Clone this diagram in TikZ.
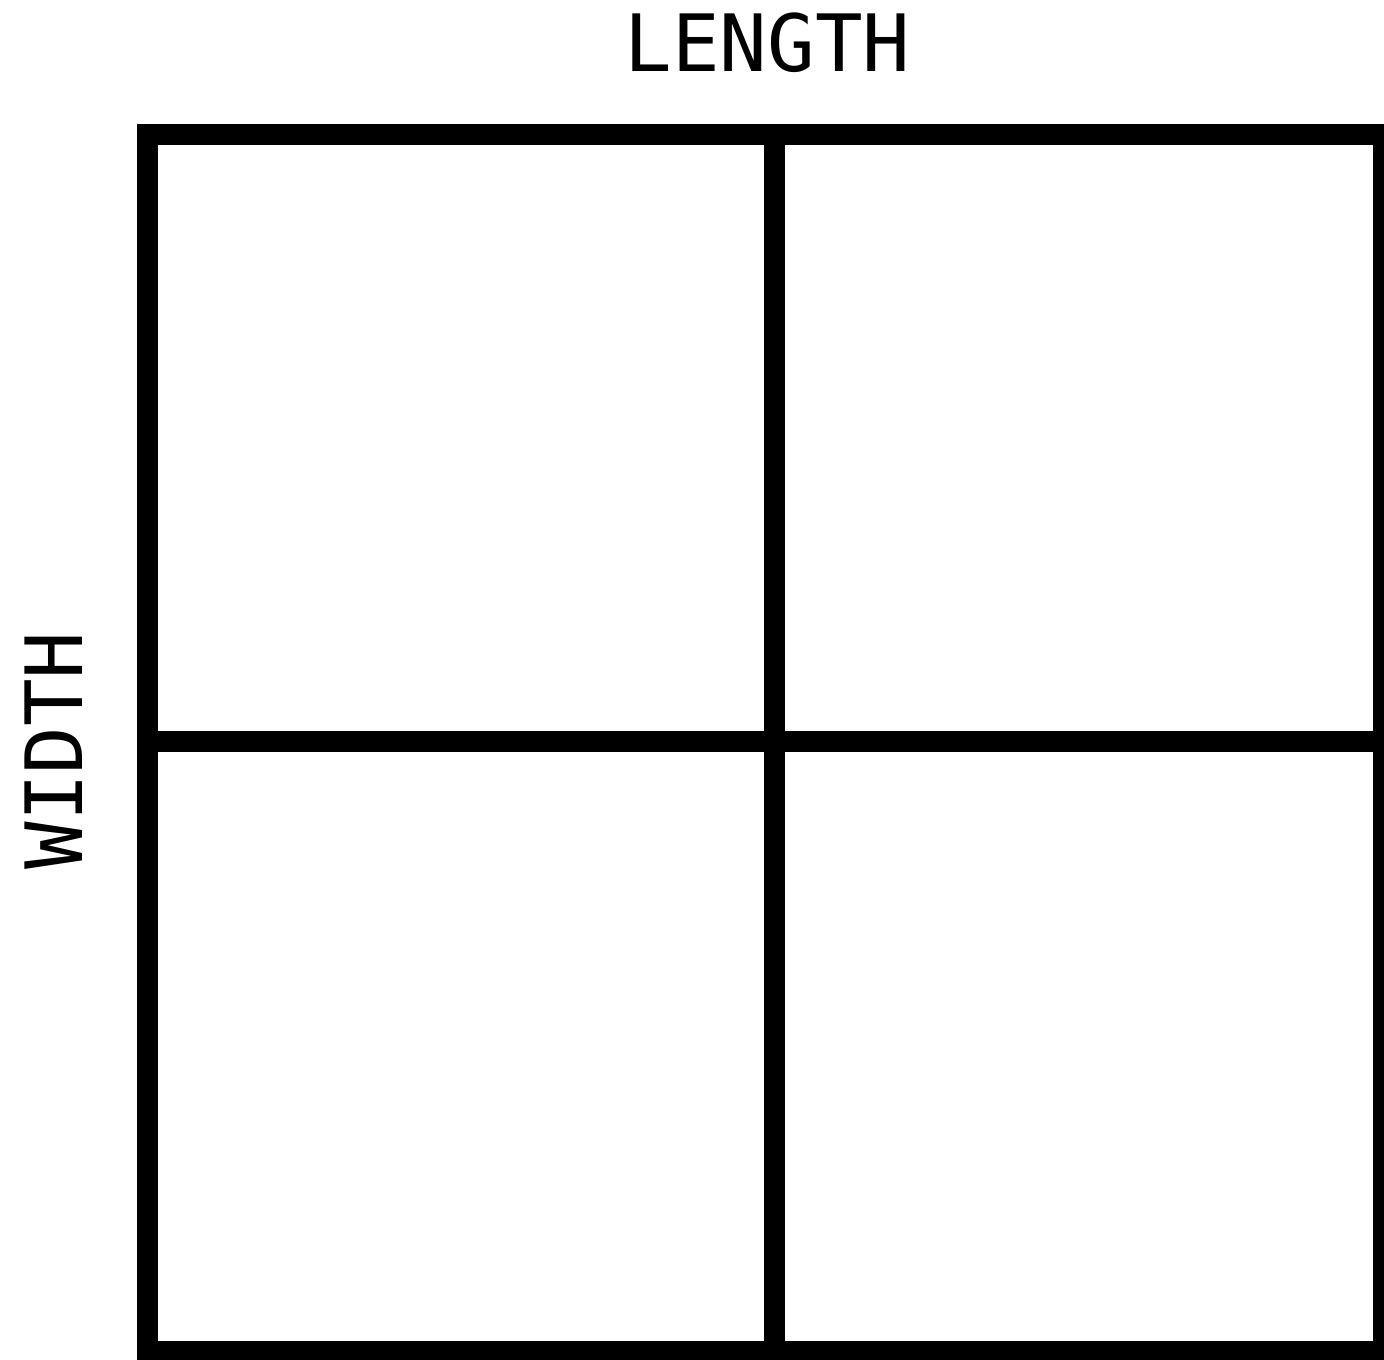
\documentclass[tikz,border=0pt]{standalone}
\usepackage{fontspec}
\newfontfamily\gridfont{DejaVu Sans Mono}
\usetikzlibrary{positioning}
\definecolor{GridInk}{HTML}{000000}

\tikzset{
  gridline/.style={draw=GridInk,line width=0.21cm,line join=miter},
  axislabel/.style={inner sep=0pt,text=GridInk,font=\gridfont\fontsize{22.5pt}{25pt}\selectfont}
}

\begin{document}
\begin{tikzpicture}
  \useasboundingbox (0,0) rectangle (13.84,13.59);
  \clip (0,0) rectangle (13.84,13.59);
  % corners of the square
  \coordinate (nw) at (1.475,12.245);
  \coordinate (se) at (13.835,0.08);
  \coordinate (midx) at (7.745,0);
  \coordinate (midy) at (0,6.175);
  \draw[gridline] (nw) rectangle (se);
  \draw[gridline] (nw -| midx) -- (se -| midx);
  \draw[gridline] (nw |- midy) -- (se |- midy);
  % axis labels
  \node[axislabel] (length) at (7.675,13.165) {LENGTH};
  \node[axislabel,rotate=90] (width) at (0.535,6.085) {WIDTH};
\end{tikzpicture}
\end{document}
